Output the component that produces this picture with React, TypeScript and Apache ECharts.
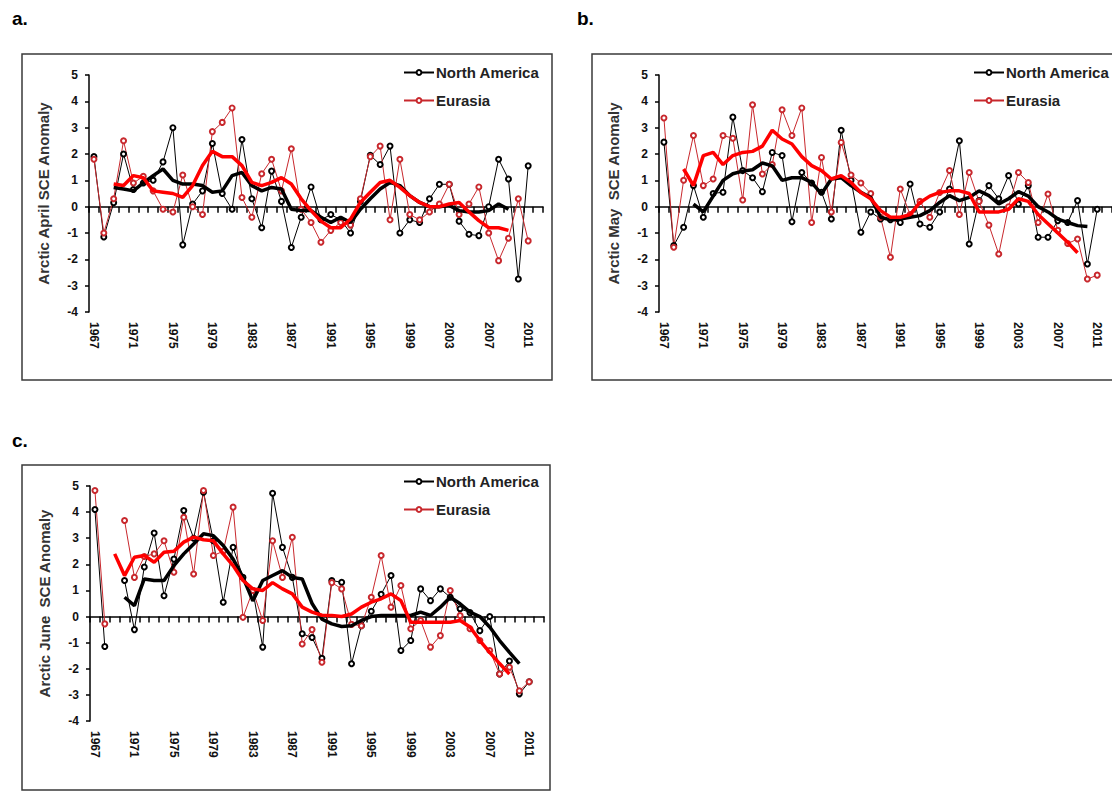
import React, { useEffect, useRef } from 'react';
import * as echarts from 'echarts';

const years = [
  '1967', '1968', '1969', '1970', '1971', '1972', '1973', '1974', '1975', '1976',
  '1977', '1978', '1979', '1980', '1981', '1982', '1983', '1984', '1985', '1986',
  '1987', '1988', '1989', '1990', '1991', '1992', '1993', '1994', '1995', '1996',
  '1997', '1998', '1999', '2000', '2001', '2002', '2003', '2004', '2005', '2006',
  '2007', '2008', '2009', '2010', '2011', '2012',
];

// a. April
const naApril = [
  1.9, -1.15, 0.15, 2.0, 0.65, 0.9, 1.0, 1.7, 3.0, -1.45,
  0.1, 0.6, 2.4, 0.5, -0.1, 2.55, 0.3, -0.8, 1.35, 0.2,
  -1.55, -0.4, 0.75, -0.5, -0.3, -0.5, -1.0, 0.2, 1.95, 1.6,
  2.3, -1.0, -0.5, -0.6, 0.3, 0.85, 0.85, -0.55, -1.05, -1.1,
  0.0, 1.8, 1.05, -2.75, 1.55, null,
];
const euApril = [
  1.8, -1.0, 0.3, 2.5, 0.9, 1.15, 0.6, -0.1, -0.2, 1.2,
  0.0, -0.3, 2.85, 3.2, 3.75, 0.35, -0.4, 1.25, 1.8, 0.6,
  2.2, -0.1, -0.6, -1.35, -0.9, -0.6, -0.7, 0.3, 1.9, 2.3,
  -0.5, 1.8, -0.3, -0.5, -0.2, 0.1, 0.85, -0.3, 0.1, 0.75,
  -1.0, -2.05, -1.2, 0.3, -1.3, null,
];
const naAprilSmooth = [
  null, null, 0.73, 0.67, 0.6, 0.9, 1.18, 1.43, 1.0, 0.86,
  0.86, 0.8, 0.55, 0.6, 1.18, 1.3, 0.8, 0.6, 0.73, 0.67,
  -0.1, -0.15, -0.15, -0.4, -0.6, -0.4, -0.6, -0.1, 0.3, 0.67,
  0.92, 0.8, 0.42, 0.16, 0.0, 0.0, 0.05, -0.15, -0.2, -0.2,
  -0.15, 0.1, -0.1, null, null, null,
];
const euAprilSmooth = [
  null, null, 0.86, 0.8, 1.18, 1.1, 0.6, 0.55, 0.5, 0.35,
  0.8, 1.56, 2.1, 1.9, 1.9, 1.56, 0.92, 0.8, 0.92, 1.1,
  0.86, 0.3, -0.15, -0.55, -0.8, -0.8, -0.47, 0.16, 0.55, 0.92,
  1.0, 0.73, 0.42, 0.16, 0.0, 0.0, 0.1, 0.16, -0.2, -0.53,
  -0.8, -0.8, -0.9, null, null, null,
];

// b. May
const naMay = [
  2.45, -1.48, -0.78, 0.8, -0.4, 0.5, 0.55, 3.4, 1.37, 1.1,
  0.57, 2.06, 1.94, -0.57, 1.3, 0.9, 0.55, -0.47, 2.9, 1.0,
  -0.97, -0.2, -0.47, -0.5, -0.6, 0.86, -0.66, -0.78, -0.2, 0.67,
  2.5, -1.42, 0.23, 0.8, 0.3, 1.18, 0.1, 0.8, -1.16, -1.16,
  -0.53, -0.6, 0.23, -2.18, -0.1, null,
];
const euMay = [
  3.37, -1.54, 1.0, 2.7, 0.8, 1.05, 2.7, 2.6, 0.25, 3.87,
  1.24, 1.6, 3.68, 2.7, 3.75, -0.6, 1.87, -0.2, 2.44, 1.2,
  0.9, 0.5, -0.4, -1.92, 0.67, -0.3, 0.2, -0.4, 0.54, 1.37,
  -0.3, 1.3, 0.2, -0.7, -1.8, 0.0, 1.3, 0.92, -0.6, 0.48,
  -0.9, -1.4, -1.23, -2.75, -2.6, null,
];
const naMaySmooth = [
  null, null, null, 0.1, -0.2, 0.4, 1.0, 1.25, 1.35, 1.4,
  1.66, 1.55, 1.0, 1.1, 1.1, 0.92, 0.48, 1.05, 1.1, 0.8,
  0.55, 0.35, -0.4, -0.5, -0.47, -0.4, -0.34, -0.15, 0.16, 0.42,
  0.23, 0.35, 0.6, 0.42, 0.1, 0.3, 0.57, 0.4, 0.0, -0.2,
  -0.47, -0.6, -0.72, -0.75, null, null,
];
const euMaySmooth = [
  null, null, 1.43, 0.8, 1.94, 2.06, 1.6, 1.94, 2.06, 2.1,
  2.3, 2.9, 2.57, 2.38, 1.9, 1.56, 1.37, 1.05, 1.18, 0.92,
  0.54, 0.3, -0.15, -0.4, -0.4, -0.3, 0.16, 0.4, 0.54, 0.6,
  0.6, 0.5, -0.2, -0.2, -0.2, -0.1, 0.3, 0.2, -0.3, -0.65,
  -1.0, -1.35, -1.75, null, null, null,
];

// c. June
const naJune = [
  4.1, -1.15, null, 1.38, -0.5, 1.9, 3.2, 0.8, 2.2, 4.06,
  3.0, 4.76, 2.9, 0.55, 2.65, 1.5, 1.0, -1.17, 4.72, 2.65,
  1.5, -0.66, -0.8, -1.6, 1.38, 1.31, -1.81, -0.35, 0.2, 0.85,
  1.57, -1.3, -0.92, 1.06, 0.61, 1.06, 0.74, 0.3, 0.15, -0.54,
  0.0, -2.2, -1.7, -2.96, -2.5, null,
];
const euJune = [
  4.83, -0.28, null, 3.68, 1.5, 2.3, 2.4, 2.9, 1.7, 3.8,
  1.63, 4.83, 2.34, 2.5, 4.19, -0.03, 1.0, -0.15, 2.9, 1.5,
  3.04, -1.05, -0.5, -1.75, 1.3, 1.06, -0.3, -0.35, 0.74, 2.34,
  0.36, 1.19, -0.47, -0.15, -1.17, -0.73, 1.0, 0.04, -0.47, -0.92,
  -1.3, -2.2, -1.94, -2.84, -2.5, null,
];
const naJuneSmooth = [
  null, null, null, 0.74, 0.42, 1.44, 1.38, 1.38, 1.95, 2.4,
  2.78, 3.17, 3.1, 2.72, 2.2, 1.5, 0.6, 1.38, 1.57, 1.76,
  1.5, 1.44, 0.5, -0.1, -0.28, -0.38, -0.35, -0.15, 0.0, 0.04,
  0.04, 0.04, 0.04, 0.17, 0.04, 0.36, 0.74, 0.49, 0.17, 0.0,
  -0.4, -0.92, -1.37, -1.8, null, null,
];
const euJuneSmooth = [
  null, null, 2.4, 1.57, 2.27, 2.34, 2.08, 2.46, 2.5, 2.85,
  3.04, 2.94, 2.9, 2.4, 1.95, 1.38, 1.06, 1.0, 1.3, 1.06,
  0.87, 0.36, 0.17, 0.05, 0.04, 0.0, 0.1, 0.36, 0.55, 0.68,
  0.87, 0.61, -0.22, -0.22, -0.22, -0.22, -0.22, -0.15, -0.4, -0.92,
  -1.37, -1.8, -2.2, null, null, null,
];

const legendNames = ['North America', 'Eurasia'];
const panelTitles = ['Arctic April SCE Anomaly', 'Arctic May  SCE Anomaly', 'Arctic June  SCE Anomaly'];
const panelLetters = ['a.', 'b.', 'c.'];

const FONT = '"Liberation Sans", Arial, sans-serif';

export default function App() {
  const ref = useRef<HTMLDivElement>(null);

  useEffect(() => {
    if (!ref.current) return;
    const chart = echarts.init(ref.current, null, { renderer: 'svg' });

    const panels = [
      { na: naApril, eu: euApril, naS: naAprilSmooth, euS: euAprilSmooth,
        grid: { left: 89, top: 75, width: 454, height: 237 },
        legend: { left: 398, top: 60 }, box: { x: 22, y: 54, width: 530, height: 326 }, letter: { x: 12, y: 9 } },
      { na: naMay, eu: euMay, naS: naMaySmooth, euS: euMaySmooth,
        grid: { left: 659, top: 75, width: 454, height: 237 },
        legend: { left: 968, top: 60 }, box: { x: 592, y: 54, width: 560, height: 326 }, letter: { x: 577, y: 9 } },
      { na: naJune, eu: euJune, naS: naJuneSmooth, euS: euJuneSmooth,
        grid: { left: 90, top: 486, width: 454, height: 235 },
        legend: { left: 398, top: 469 }, box: { x: 22, y: 465, width: 528, height: 325 }, letter: { x: 12, y: 431 } },
    ];

    const grid: any[] = [];
    const xAxis: any[] = [];
    const yAxis: any[] = [];
    const series: any[] = [];
    const legend: any[] = [];
    const graphic: any[] = [];

    panels.forEach((p, i) => {
      grid.push({ ...p.grid, containLabel: false });
      // label axis at the bottom
      xAxis.push({
        type: 'category', gridIndex: i, data: years, boundaryGap: true, position: 'bottom',
        axisLine: { show: false, onZero: false }, axisTick: { show: false },
        axisLabel: { interval: 3, rotate: -90, margin: 10, fontSize: 12, fontWeight: 'bold', color: '#111', fontFamily: FONT },
        splitLine: { show: false },
      });
      // zero line axis with hanging ticks
      xAxis.push({
        type: 'category', gridIndex: i, data: years, boundaryGap: true, position: 'bottom',
        axisLine: { show: true, onZero: true, lineStyle: { color: '#000', width: 1.5 } },
        axisTick: { show: true, interval: 0, length: 6, lineStyle: { color: '#000', width: 1.5 } },
        axisLabel: { show: false }, splitLine: { show: false },
      });
      yAxis.push({
        type: 'value', gridIndex: i, min: -4, max: 5, interval: 1,
        name: panelTitles[i], nameLocation: 'middle', nameGap: 38, nameRotate: 90,
        nameTextStyle: { fontSize: 15, fontWeight: 'bold', color: '#333', fontFamily: FONT },
        axisLine: { show: true, lineStyle: { color: '#000', width: 1.5 } },
        axisTick: { show: true, length: 4, lineStyle: { color: '#000', width: 1.5 } },
        axisLabel: { fontSize: 12, fontWeight: 'bold', color: '#111', margin: 11, fontFamily: FONT },
        splitLine: { show: false },
      });
      series.push({
        name: legendNames[0], type: 'line', xAxisIndex: 2 * i, yAxisIndex: i, data: p.na,
        symbol: 'emptyCircle', symbolSize: 5, connectNulls: false, z: 3,
        lineStyle: { color: '#000', width: 1 }, itemStyle: { color: '#000', borderWidth: 1 },
      });
      series.push({
        name: legendNames[1], type: 'line', xAxisIndex: 2 * i, yAxisIndex: i, data: p.eu,
        symbol: 'emptyCircle', symbolSize: 5, connectNulls: false, z: 3,
        lineStyle: { color: '#c8282d', width: 1 }, itemStyle: { color: '#c8282d', borderWidth: 1 },
      });
      series.push({
        name: 'North America trend', type: 'line', xAxisIndex: 2 * i, yAxisIndex: i, data: p.naS,
        symbol: 'none', connectNulls: false, z: 4,
        lineStyle: { color: '#000', width: 3.5 },
      });
      series.push({
        name: 'Eurasia trend', type: 'line', xAxisIndex: 2 * i, yAxisIndex: i, data: p.euS,
        symbol: 'none', connectNulls: false, z: 5,
        lineStyle: { color: '#ff0000', width: 3.5 },
      });
      legend.push({
        data: legendNames, orient: 'vertical', left: p.legend.left, top: p.legend.top,
        itemWidth: 30, itemHeight: 6, itemGap: 13, selectedMode: false,
        textStyle: { fontSize: 15, fontWeight: 'bold', color: '#222', fontFamily: FONT, padding: [0, 0, 0, -3] },
      });
      graphic.push({
        type: 'rect', shape: { ...p.box }, z: -1,
        style: { fill: 'none', stroke: '#3a3a3a', lineWidth: 1.5 },
      });
      graphic.push({
        type: 'text', x: p.letter.x, y: p.letter.y,
        style: { text: panelLetters[i], fontSize: 19, fontWeight: 'bold', fill: '#000', fontFamily: FONT, textVerticalAlign: 'top' },
      });
    });

    chart.setOption({
      animation: false,
      backgroundColor: '#fff',
      grid, xAxis, yAxis, series, legend, graphic,
    });

    return () => chart.dispose();
  }, []);

  return (
    <div
      ref={ref}
      style={{ position: 'absolute', left: 0, top: 0, width: 1112, height: 795 }}
    />
  );
}
